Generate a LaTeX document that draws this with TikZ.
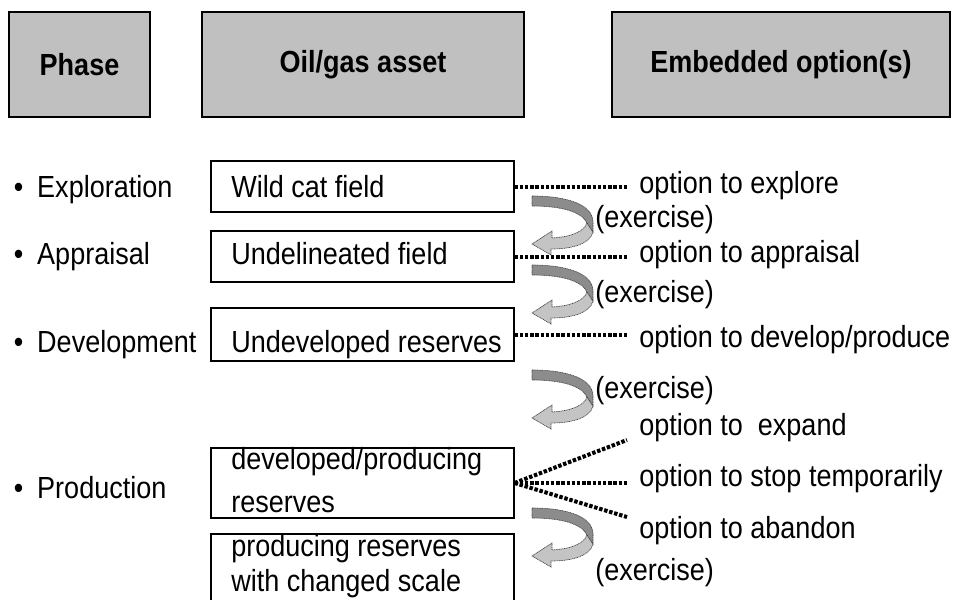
\documentclass[tikz,border=0pt]{standalone}
\usepackage{fontspec}
\setmainfont{Liberation Sans}[FakeStretch=0.885]
\definecolor{headgray}{RGB}{192,192,192}
\definecolor{ribbondark}{RGB}{140,140,140}
\definecolor{ribbonlight}{RGB}{196,196,196}
\tikzset{
  every node/.style={font=\fontsize{22.9pt}{27pt}\selectfont},
  headbox/.style={draw=black, line width=0.9pt, fill=headgray,
    font=\fontsize{22.9pt}{27pt}\selectfont\bfseries, inner sep=0pt},
  assetbox/.style={draw=black, line width=0.8pt, fill=white, inner sep=0pt},
  lbl/.style={inner sep=0pt, anchor=base west},
  multi/.style={inner sep=0pt, anchor=west, align=left},
  opt/.style={inner xsep=9pt, inner ysep=0pt, anchor=base west},
  dotline/.style={line width=3pt, dash pattern=on 2.6pt off 1.3pt},
  ribbonedge/.style={draw=black!75, line width=0.5pt, dash pattern=on 0.75pt off 0.5pt},
  exarrow/.pic={
    % lower, lighter band running back to the arrow head
    \path[fill=ribbonlight, ribbonedge]
      (55,27) -- (61,36) .. controls (58,48) and (40,53) .. (19,53)
      -- (19,59) -- (0,48) -- (20,35) -- (20,42)
      .. controls (38,41) and (52,36) .. (55,27) -- cycle;
    % upper, darker band from the tail round the bend
    \path[fill=ribbondark, ribbonedge]
      (0,0) .. controls (36,0) and (61,9) .. (61,26) -- (61,36) -- (55,27)
      .. controls (50,16) and (30,10) .. (0,10) -- cycle;
  }
}
\begin{document}
\begin{tikzpicture}[x=0.75pt, y=-0.75pt]
\useasboundingbox (0,0) rectangle (959,599);
\clip (0,0) rectangle (959,599);

% column headers
\node[headbox, minimum width=105.75pt, minimum height=78.75pt] (hphase) at (79.5,64.5) {Phase};
\node[headbox, minimum width=241.5pt, minimum height=78.75pt] (hasset) at (363,64.5) {Oil/gas asset};
\node[headbox, minimum width=253.5pt, minimum height=78.75pt] (hoption) at (781,64.5) {Embedded option(s)};

% phases
\node[lbl] (pexpl) at (13.5,197) {•\hspace{10.5pt}Exploration};
\node[lbl] (pappr) at (13.5,264) {•\hspace{10.5pt}Appraisal};
\node[lbl] (pdev)  at (13.5,352) {•\hspace{10.5pt}Development};
\node[lbl] (pprod) at (13.5,498) {•\hspace{10.5pt}Production};

% asset boxes
\node[assetbox, minimum width=227.25pt, minimum height=38.25pt] (wild)    at (362.5,186.5) {};
\node[assetbox, minimum width=227.25pt, minimum height=38.25pt] (undel)   at (362.5,256.5) {};
\node[assetbox, minimum width=227.25pt, minimum height=39.75pt] (undev)   at (362.5,334.5) {};
\node[assetbox, minimum width=227.25pt, minimum height=52.5pt]  (devprod) at (362.5,483) {};
\node[assetbox, minimum width=227.25pt, minimum height=51.75pt] (scaled)  at (362.5,568.5) {};

\node[lbl] (wildT)  at (231,197) {Wild cat field};
\node[lbl] (undelT) at (231,264) {Undelineated field};
\node[lbl] (undevT) at (231,352) {Undeveloped reserves};
\node[multi] (devprodT) at (231,480.5) {developed/producing\\[5.25pt]reserves};
\node[multi] (scaledT)  at (231,566.5) {producing reserves\\[-0.75pt]with changed scale};

% embedded options
\node[opt] (oexpl)  at (627,193) {option to explore};
\node[opt] (oappr)  at (627,262) {option to appraisal};
\node[opt] (odev)   at (627,347) {option to develop/produce};
\node[opt] (oexp)   at (627,435) {option to\ \ expand};
\node[opt] (ostop)  at (627,486) {option to stop temporarily};
\node[opt] (oaband) at (627,538) {option to abandon};

% exercise labels
\node[lbl] (ex1) at (595,227) {(exercise)};
\node[lbl] (ex2) at (595,302) {(exercise)};
\node[lbl] (ex3) at (595,398) {(exercise)};
\node[lbl] (ex4) at (595,580) {(exercise)};

% dotted links from assets to their options
\draw[dotline] (wild.east)  -- (wild.east -| oexpl.west);
\draw[dotline] (undel.east) -- (undel.east -| oappr.west);
\draw[dotline] (undev.east) -- (undev.east -| odev.west);
\coordinate (fanup)  at (627,440);
\coordinate (fanlow) at (627,517);
\draw[dotline] (devprod.east) -- (fanup);
\draw[dotline] (devprod.east) -- (devprod.east -| ostop.west);
\draw[dotline] (devprod.east) -- (fanlow);

% exercise arrows
\pic (arr1) at (532,196) {exarrow};
\pic (arr2) at (532,265) {exarrow};
\pic (arr3) at (532,370) {exarrow};
\pic (arr4) at (532,508) {exarrow};
\end{tikzpicture}
\end{document}
